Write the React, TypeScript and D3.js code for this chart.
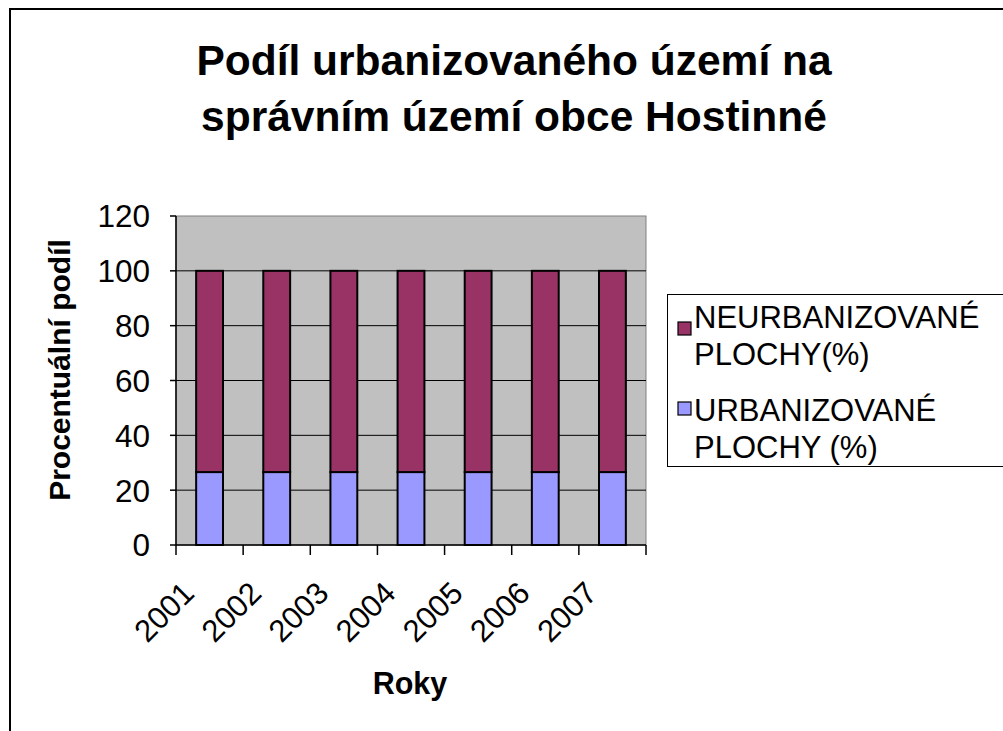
import React from "react";
import * as d3 from "d3";

const years = ["2001", "2002", "2003", "2004", "2005", "2006", "2007"];
const urbanized = [26.6, 26.6, 26.6, 26.6, 26.6, 26.6, 26.6];
const nonUrbanized = [73.4, 73.4, 73.4, 73.4, 73.4, 73.4, 73.4];
const yTicks = [0, 20, 40, 60, 80, 100, 120];
const titleLines = ["Podíl urbanizovaného území na", "správním území obce Hostinné"];
const legendItems = [
  { lines: ["NEURBANIZOVANÉ", "PLOCHY(%)"], color: "#993366" },
  { lines: ["URBANIZOVANÉ", "PLOCHY (%)"], color: "#9999FF" },
];

const W = 1003;
const H = 731;
const FONT = "'Liberation Sans', Arial, sans-serif";

export default function App() {
  const left = 176, right = 646, top = 216, bottom = 545;
  const x = d3.scaleBand<string>().domain(years).range([left, right]).paddingInner(0.6).paddingOuter(0.3);
  const y = d3.scaleLinear().domain([0, 120]).range([bottom, top]);
  const step = x.step();
  const boundaries = d3.range(years.length + 1).map((i) => left + i * step);

  return (
    <svg width={W} height={H} style={{ position: "absolute", left: 0, top: 0, background: "#fff" }} fontFamily={FONT}>
      <rect x={0} y={0} width={W} height={H} fill="#fff" />
      <rect x={10} y={9} width={W + 20} height={H + 20} fill="none" stroke="#000" strokeWidth={2} />
      {/* title */}
      {titleLines.map((t, i) => (
        <text key={i} x={514} y={75 + i * 56} textAnchor="middle" fontSize={42.5} fontWeight="bold" fill="#000">{t}</text>
      ))}
      {/* plot area */}
      <rect x={left} y={top} width={right - left} height={bottom - top} fill="#C0C0C0" stroke="#808080" strokeWidth={1} />
      {yTicks.filter((t) => t > 0 && t < 120).map((t) => (
        <line key={t} x1={left} x2={right} y1={y(t)} y2={y(t)} stroke="#000" strokeWidth={1} />
      ))}
      {/* bars */}
      {years.map((yr, i) => (
        <g key={yr}>
          <rect x={x(yr)} y={y(urbanized[i])} width={x.bandwidth()} height={y(0) - y(urbanized[i])} fill="#9999FF" stroke="#000" strokeWidth={2} />
          <rect x={x(yr)} y={y(urbanized[i] + nonUrbanized[i])} width={x.bandwidth()} height={y(urbanized[i]) - y(urbanized[i] + nonUrbanized[i])} fill="#993366" stroke="#000" strokeWidth={2} />
        </g>
      ))}
      {/* axes */}
      <line x1={left} x2={left} y1={top} y2={bottom} stroke="#000" strokeWidth={1.5} />
      <line x1={left} x2={right} y1={bottom} y2={bottom} stroke="#000" strokeWidth={1.5} />
      {yTicks.map((t) => (
        <g key={t}>
          <line x1={left - 6} x2={left} y1={y(t)} y2={y(t)} stroke="#000" strokeWidth={1.5} />
          <text x={150} y={y(t)} dy="0.36em" textAnchor="end" fontSize={31.5} fill="#000">{t}</text>
        </g>
      ))}
      {boundaries.map((bx, i) => (
        <line key={i} x1={bx} x2={bx} y1={bottom} y2={bottom + 10} stroke="#000" strokeWidth={1.5} />
      ))}
      {years.map((yr) => {
        const cx = (x(yr) as number) + x.bandwidth() / 2 - 13.5;
        const cy = 595;
        return (
          <text key={yr} x={cx} y={cy} textAnchor="end" fontSize={31} fill="#000" transform={`rotate(-45, ${cx}, ${cy})`}>{yr}</text>
        );
      })}
      {/* axis titles */}
      <text x={410} y={694} textAnchor="middle" fontSize={30.5} fontWeight="bold" fill="#000">Roky</text>
      <text transform="translate(70, 370) rotate(-90)" textAnchor="middle" fontSize={30} fontWeight="bold" fill="#000">Procentuální podíl</text>
      {/* legend */}
      <rect x={667.5} y={294.5} width={400} height={172} fill="#fff" stroke="#000" strokeWidth={1} />
      {legendItems.map((it, i) => (
        <g key={i}>
          <rect x={678} y={322 + i * 80} width={13} height={13} fill={it.color} stroke="#000" strokeWidth={1.2} />
          {it.lines.map((ln, j) => (
            <text key={j} x={694} y={328 + i * 93 + j * 37} fontSize={31} fill="#000">{ln}</text>
          ))}
        </g>
      ))}
    </svg>
  );
}
